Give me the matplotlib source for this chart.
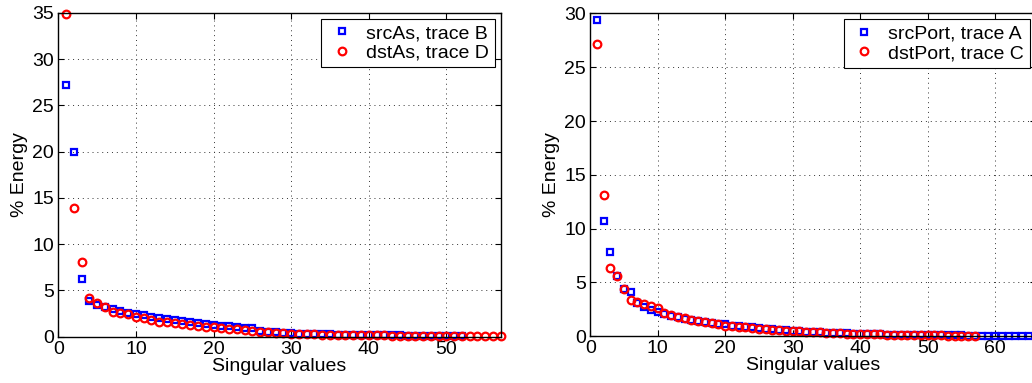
import numpy as np
import matplotlib
matplotlib.use('Agg')
import matplotlib.pyplot as plt

plt.rcParams['font.family'] = ['Liberation Sans', 'DejaVu Sans']
plt.rcParams['font.size'] = 14

# left panel: AS singular values (% energy)
src_as = [27.2, 20.0, 6.2, 3.8, 3.4, 3.2, 3.0, 2.8, 2.6, 2.4,
          2.3, 2.1, 2.0, 1.9, 1.8, 1.7, 1.6, 1.5, 1.4, 1.3,
          1.2, 1.1, 1.0, 0.95, 0.9, 0.6, 0.5, 0.45, 0.4, 0.35,
          0.32, 0.3, 0.28, 0.26, 0.24, 0.22, 0.2, 0.19, 0.18, 0.17,
          0.16, 0.15, 0.14, 0.13, 0.12, 0.11, 0.1, 0.09, 0.08, 0.07,
          0.06, 0.05]
dst_as = [34.9, 13.9, 8.1, 4.2, 3.6, 3.2, 2.7, 2.6, 2.4, 2.1,
          2.0, 1.8, 1.6, 1.55, 1.5, 1.35, 1.25, 1.15, 1.05, 1.0,
          0.9, 0.85, 0.8, 0.7, 0.65, 0.55, 0.45, 0.4, 0.35, 0.3,
          0.28, 0.26, 0.24, 0.22, 0.2, 0.19, 0.18, 0.17, 0.16, 0.15,
          0.14, 0.13, 0.12, 0.11, 0.1, 0.1, 0.09, 0.09, 0.08, 0.08,
          0.07, 0.07, 0.06, 0.06, 0.05, 0.05, 0.04]

# right panel: port singular values (% energy)
src_port = [29.4, 10.7, 7.8, 5.6, 4.4, 4.1, 3.1, 2.7, 2.4, 2.3,
            2.1, 1.9, 1.8, 1.6, 1.5, 1.4, 1.3, 1.2, 1.15, 1.1,
            1.0, 0.95, 0.9, 0.85, 0.8, 0.7, 0.65, 0.6, 0.55, 0.5,
            0.47, 0.44, 0.41, 0.38, 0.35, 0.32, 0.29, 0.26, 0.23, 0.2,
            0.19, 0.18, 0.17, 0.16, 0.15, 0.14, 0.13, 0.12, 0.11, 0.1,
            0.1, 0.09, 0.09, 0.08, 0.08, 0.07, 0.07, 0.06, 0.06, 0.05,
            0.05, 0.04, 0.04, 0.03, 0.03, 0.03]
dst_port = [27.2, 13.1, 6.3, 5.6, 4.4, 3.4, 3.2, 3.0, 2.8, 2.6,
            2.2, 2.0, 1.8, 1.7, 1.5, 1.45, 1.35, 1.25, 1.15, 1.0,
            0.95, 0.9, 0.85, 0.8, 0.7, 0.65, 0.6, 0.55, 0.52, 0.5,
            0.46, 0.42, 0.39, 0.37, 0.35, 0.31, 0.28, 0.25, 0.22, 0.2,
            0.19, 0.18, 0.17, 0.16, 0.15, 0.14, 0.13, 0.12, 0.11, 0.1,
            0.09, 0.08, 0.07, 0.07, 0.06, 0.05, 0.05]

panels = [
    (src_as, dst_as, 'srcAs, trace B', 'dstAs, trace D', 57, 35,
     [0.0565, 0.121, 0.4287, 0.8457]),
    (src_port, dst_port, 'srcPort, trace A', 'dstPort, trace C', 66, 30,
     [0.5719, 0.122, 0.4317, 0.8430]),
]

fig = plt.figure(figsize=(10.32, 3.83), dpi=100)

for src, dst, lab_s, lab_d, xmax, ymax, pos in panels:
    ax = fig.add_axes(pos)
    ax.plot(np.arange(1, len(src) + 1), src, 's', mfc='none', mec='#0000ff',
            mew=1.6, ms=4.3, label=lab_s, clip_on=False)
    ax.plot(np.arange(1, len(dst) + 1), dst, 'o', mfc='none', mec='#ff0000',
            mew=1.6, ms=5.5, label=lab_d, clip_on=False)
    ax.set_xlim(0, xmax)
    ax.set_ylim(0, ymax)
    ax.set_xticks(np.arange(0, xmax + 1, 10))
    ax.set_yticks(np.arange(0, ymax + 1, 5))
    ax.grid(True, linestyle=(0, (1, 4)), color='#333333', linewidth=0.7)
    ax.tick_params(direction='in', length=4, top=True, right=True, pad=3)
    for s in ax.spines.values():
        s.set_linewidth(1.0)
    ax.set_xlabel('Singular values', labelpad=0)
    ax.set_ylabel('% Energy', labelpad=3)
    leg = ax.legend(loc='upper right', bbox_to_anchor=(1, 1),
                    borderaxespad=0.3, borderpad=0.3, handlelength=1.5,
                    handletextpad=0.5, labelspacing=0.1, fancybox=False,
                    framealpha=1, edgecolor='black')
    leg.get_frame().set_linewidth(0.8)

fig.savefig('out.png', dpi=100)
